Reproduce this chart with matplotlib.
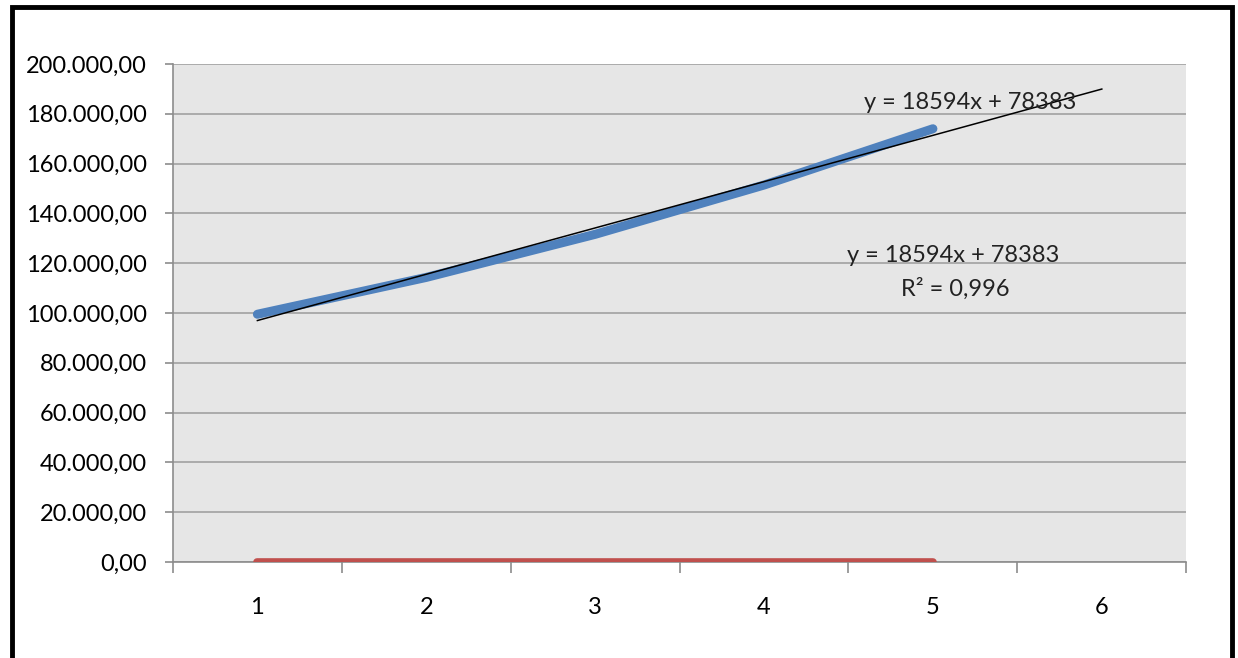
import matplotlib.pyplot as plt
from matplotlib.patches import Rectangle
from matplotlib.ticker import FuncFormatter, MultipleLocator
import numpy as np

# series values per period
periods = [1, 2, 3, 4, 5]
values = [99500, 114300, 131600, 151400, 174000]
zero_line = [0, 0, 0, 0, 0]

# linear trend as reported on the chart
slope = 18594
intercept = 78383
r_squared = "0,996"
trend_x = [1, 6]

categories = [1, 2, 3, 4, 5, 6]


def excel_number(v, pos=None):
    # 200000 -> 200.000,00
    s = f"{v:,.2f}"
    return s.replace(",", "X").replace(".", ",").replace("X", ".")


def main():
    plt.rcParams['font.family'] = ['Lato', 'DejaVu Sans']
    fs = 17
    fig = plt.figure(figsize=(12.38, 6.58), dpi=100)
    ax = fig.add_axes([0.1397, 0.1459, 0.8185, 0.7568])
    ax.set_facecolor('#e6e6e6')

    ax.plot(periods, zero_line, color='#c0504d', lw=5.5, solid_capstyle='round', zorder=3)
    ax.plot(periods, values, color='#4f81bd', lw=6.5, solid_capstyle='round', zorder=3)
    tx = np.array(trend_x)
    ax.plot(tx, slope * tx + intercept, color='black', lw=1.1, zorder=4)

    eq = f"y = {slope}x + {intercept}"
    ax.text(5.22, 184500, eq, fontsize=fs, color='#222222', ha='center', va='center', zorder=5)
    ax.text(5.12, 122900, eq, fontsize=fs, color='#222222', ha='center', va='center', zorder=5)
    ax.text(5.13, 109700, f"R² = {r_squared}", fontsize=fs, color='#222222',
            ha='center', va='center', zorder=5)

    ax.set_xlim(0.5, 6.5)
    ax.set_ylim(0, 200000)
    ax.yaxis.set_major_locator(MultipleLocator(20000))
    ax.yaxis.set_major_formatter(FuncFormatter(excel_number))
    ax.grid(axis='y', color='#a6a6a6', lw=1.3, zorder=1)
    ax.set_axisbelow(True)

    # category labels sit between the boundary ticks
    ax.set_xticks(np.arange(0.5, 7.0, 1.0))
    ax.set_xticklabels([])
    ax.set_xticks(categories, minor=True)
    ax.set_xticklabels([str(c) for c in categories], minor=True)
    ax.tick_params(axis='x', which='minor', length=0, pad=25, labelsize=fs)
    ax.tick_params(axis='x', which='major', length=8, color='#8c8c8c', width=1.2)
    ax.tick_params(axis='y', length=6, color='#8c8c8c', width=1.2, labelsize=fs, pad=13)

    for side in ['top', 'right']:
        ax.spines[side].set_visible(False)
    for side in ['left', 'bottom']:
        ax.spines[side].set_color('#8c8c8c')
        ax.spines[side].set_linewidth(1.2)

    # chart frame, bottom edge runs off the image
    frame = Rectangle((0.0097, -0.05), 0.9855, 1.04, transform=fig.transFigure,
                      fill=False, edgecolor='black', lw=3.5)
    fig.patches.append(frame)

    fig.savefig('out.png', dpi=100)


if __name__ == "__main__":
    main()
